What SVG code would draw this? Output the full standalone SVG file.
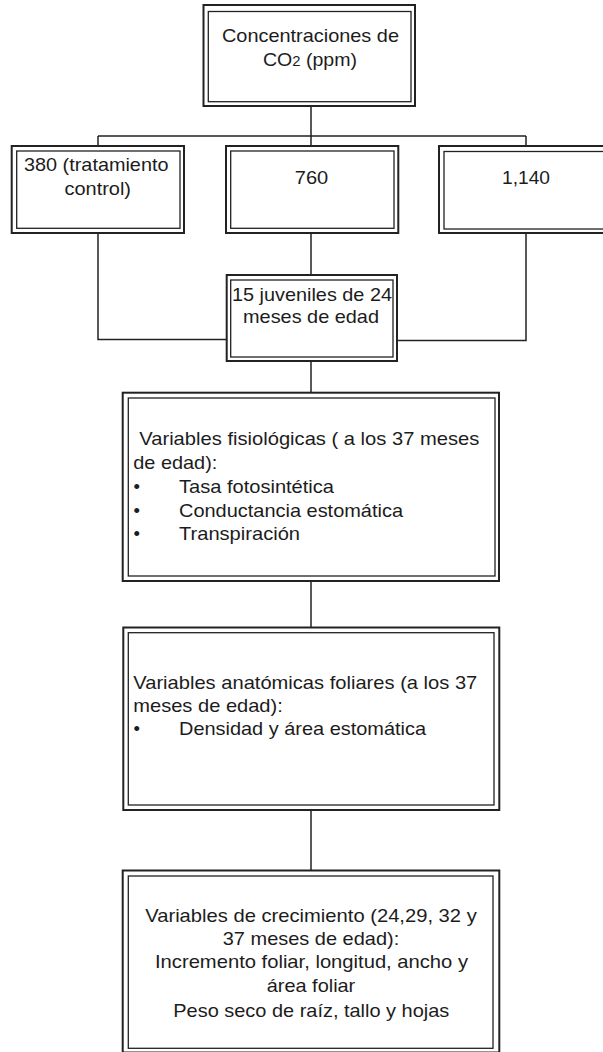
<svg xmlns="http://www.w3.org/2000/svg" width="603" height="1052" viewBox="0 0 603 1052">
<style>
.o{fill:#fff;stroke:#222;stroke-width:2}
.i{fill:none;stroke:#222;stroke-width:1.3}
.c{fill:none;stroke:#222;stroke-width:1.5}
text{font-family:"Liberation Sans",Arial,sans-serif;font-size:18.5px;fill:#1c1c1c}
.m{text-anchor:middle}
</style>
<rect width="603" height="1052" fill="#fff"/>
<g id="connectors">
<path class="c" d="M311,106V146M98,136H526M98,136V146M526,136V146"/>
<path class="c" d="M98,233V339.5H227"/>
<path class="c" d="M311,233V275"/>
<path class="c" d="M526,233V340.5H397"/>
<path class="c" d="M311,361V393"/>
<path class="c" d="M311,581V628"/>
<path class="c" d="M311,810V870"/>
</g>
<g id="n-co2">
<rect class="o" x="203.5" y="5" width="211.5" height="101"/>
<rect class="i" x="208.3" y="11.5" width="202.7" height="90.2"/>
<text x="310.5" y="42" class="m" textLength="177" lengthAdjust="spacingAndGlyphs">Concentraciones de</text>
<text x="310" y="66" class="m" textLength="94" lengthAdjust="spacingAndGlyphs">CO<tspan font-size="14">2</tspan> (ppm)</text>
</g>
<g id="n-380">
<rect class="o" x="11.7" y="146" width="172.3" height="87"/>
<rect class="i" x="16.7" y="151" width="163.3" height="77.3"/>
<text x="24" y="171" textLength="144.5" lengthAdjust="spacingAndGlyphs">380 (tratamiento</text>
<text x="64.5" y="194.5" textLength="66.5" lengthAdjust="spacingAndGlyphs">control)</text>
</g>
<g id="n-760">
<rect class="o" x="226" y="146" width="172.3" height="87"/>
<rect class="i" x="230.7" y="151" width="163.3" height="77.3"/>
<text x="311.5" y="183.5" class="m" textLength="33.5" lengthAdjust="spacingAndGlyphs">760</text>
</g>
<g id="n-1140">
<rect class="o" x="439" y="146" width="173" height="87"/>
<rect class="i" x="444" y="151.5" width="164" height="77.5"/>
<text x="526" y="184" class="m" textLength="48" lengthAdjust="spacingAndGlyphs">1,140</text>
</g>
<g id="n-juveniles">
<rect class="o" x="226.7" y="275" width="170.3" height="86"/>
<rect class="i" x="230.7" y="280" width="162.3" height="77"/>
<text x="232" y="301" textLength="160" lengthAdjust="spacingAndGlyphs">15 juveniles de 24</text>
<text x="243" y="323.3" textLength="136" lengthAdjust="spacingAndGlyphs">meses de edad</text>
</g>
<g id="n-fisiologicas">
<rect class="o" x="122.7" y="392.7" width="376.3" height="188.3"/>
<rect class="i" x="128.3" y="398" width="366.7" height="178"/>
<text x="139.3" y="445" textLength="340" lengthAdjust="spacingAndGlyphs">Variables fisiológicas ( a los 37 meses</text>
<text x="133.3" y="468.7" textLength="84" lengthAdjust="spacingAndGlyphs">de edad):</text>
<text x="133.5" y="492.7">•</text>
<text x="179" y="492.7" textLength="155" lengthAdjust="spacingAndGlyphs">Tasa fotosintética</text>
<text x="133.5" y="516.5">•</text>
<text x="179" y="516.5" textLength="224" lengthAdjust="spacingAndGlyphs">Conductancia estomática</text>
<text x="133.5" y="540">•</text>
<text x="179" y="540" textLength="121" lengthAdjust="spacingAndGlyphs">Transpiración</text>
</g>
<g id="n-anatomicas">
<rect class="o" x="123.3" y="627.5" width="376" height="182.5"/>
<rect class="i" x="128.3" y="632.7" width="365.7" height="172.3"/>
<text x="133.3" y="689" textLength="344" lengthAdjust="spacingAndGlyphs">Variables anatómicas foliares (a los 37</text>
<text x="133.3" y="711.8" textLength="149.5" lengthAdjust="spacingAndGlyphs">meses de edad):</text>
<text x="133.5" y="735">•</text>
<text x="179" y="735" textLength="247" lengthAdjust="spacingAndGlyphs">Densidad y área estomática</text>
</g>
<g id="n-crecimiento">
<rect class="o" x="122.7" y="870.5" width="376.6" height="182"/>
<rect class="i" x="128.3" y="876" width="364.7" height="172.3"/>
<text x="311" y="921.7" class="m" textLength="331.5" lengthAdjust="spacingAndGlyphs">Variables de crecimiento (24,29, 32 y</text>
<text x="311" y="944.5" class="m" textLength="176.5" lengthAdjust="spacingAndGlyphs">37 meses de edad):</text>
<text x="311.5" y="968.3" class="m" textLength="313" lengthAdjust="spacingAndGlyphs">Incremento foliar, longitud, ancho y</text>
<text x="311" y="992" class="m" textLength="88.5" lengthAdjust="spacingAndGlyphs">área foliar</text>
<text x="311.3" y="1016.5" class="m" textLength="276" lengthAdjust="spacingAndGlyphs">Peso seco de raíz, tallo y hojas</text>
</g>
</svg>
